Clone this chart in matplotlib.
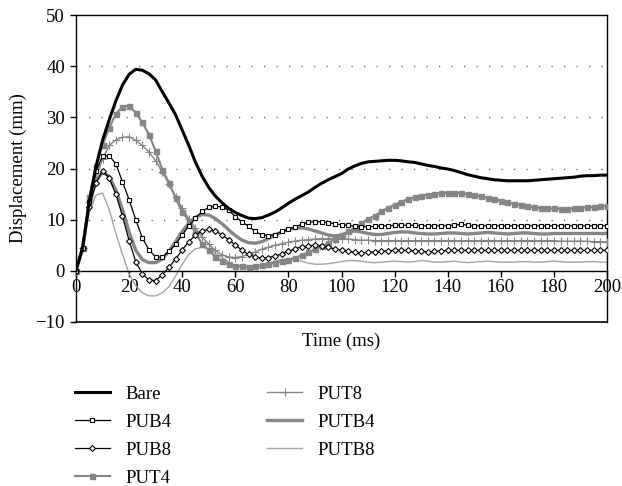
import numpy as np
import matplotlib
matplotlib.use("Agg")
import matplotlib.pyplot as plt

# ---------------- data ----------------
time_ms = np.arange(0, 200.01, 2.5)

bare = [0, 4.5, 13.5, 20.3, 25.5, 29.5, 33.2, 36.3, 38.4, 39.4, 39.2,
        38.5, 37.3, 35.0, 32.8, 30.5, 27.5, 24.5, 21.2, 18.5, 16.3,
        14.6, 13.3, 12.2, 11.4, 10.8, 10.3, 10.2, 10.4, 10.9, 11.5,
        12.3, 13.2, 14.0, 14.7, 15.4, 16.3, 17.1, 17.8, 18.4, 19.0,
        19.9, 20.5, 21.0, 21.3, 21.4, 21.5, 21.6, 21.6, 21.5, 21.3,
        21.2, 20.9, 20.6, 20.4, 20.1, 19.9, 19.6, 19.2, 18.8, 18.5,
        18.2, 18.0, 17.8, 17.7, 17.6, 17.6, 17.6, 17.6, 17.7, 17.8,
        17.9, 18.0, 18.1, 18.2, 18.3, 18.5, 18.6, 18.6, 18.7, 18.7]

pub4 = [0, 4.5, 13.5, 19.5, 22.4, 22.5, 20.9, 17.4, 13.9, 10.0, 6.4,
        4.1, 2.7, 2.7, 3.8, 5.2, 7.0, 8.8, 10.3, 11.6, 12.4,
        12.6, 12.5, 11.8, 10.6, 9.6, 8.7, 7.7, 7.0, 6.9, 7.1,
        7.7, 8.1, 8.6, 9.1, 9.5, 9.6, 9.6, 9.4, 9.2, 9.0,
        8.9, 8.7, 8.6, 8.6, 8.7, 8.8, 8.8, 8.9, 8.9, 8.9,
        8.9, 8.8, 8.8, 8.8, 8.8, 8.8, 8.9, 9.1, 8.9, 8.8,
        8.8, 8.8, 8.8, 8.8, 8.8, 8.8, 8.8, 8.8, 8.8, 8.8,
        8.8, 8.8, 8.8, 8.8, 8.8, 8.8, 8.8, 8.8, 8.8, 8.8]

pub8 = [0, 4.5, 12.5, 17.1, 19.6, 18.1, 15.0, 10.7, 5.9, 1.8, -0.6,
        -1.8, -1.9, -0.8, 0.7, 2.3, 4.1, 5.7, 7.0, 7.8, 8.1,
        7.8, 7.0, 6.1, 5.1, 4.0, 3.2, 2.7, 2.5, 2.6, 2.9,
        3.3, 3.8, 4.3, 4.7, 4.9, 5.0, 4.9, 4.6, 4.3, 4.0,
        3.8, 3.6, 3.5, 3.6, 3.7, 3.8, 3.9, 4.0, 4.0, 4.0,
        3.9, 3.8, 3.7, 3.8, 3.9, 4.0, 4.0, 4.0, 4.0, 4.0,
        4.0, 4.0, 4.0, 4.0, 4.0, 4.0, 4.0, 4.0, 4.0, 4.0,
        4.0, 4.0, 4.0, 4.0, 4.0, 4.0, 4.0, 4.0, 4.0, 4.0]

put4 = [0, 4.5, 14.5, 20.5, 24.6, 27.9, 30.7, 32.1, 32.3, 30.9, 29.0,
        26.6, 23.4, 19.8, 17.2, 14.2, 11.5, 9.8, 7.3, 5.3, 4.0,
        2.8, 1.9, 1.3, 1.0, 0.9, 0.8, 0.9, 1.1, 1.3, 1.6,
        1.9, 2.2, 2.6, 3.0, 3.6, 4.2, 4.8, 5.4, 6.3, 7.0,
        7.7, 8.4, 9.3, 10.1, 10.8, 11.6, 12.3, 12.9, 13.5, 14.0,
        14.4, 14.7, 14.9, 15.1, 15.2, 15.3, 15.3, 15.2, 15.0, 14.8,
        14.6, 14.3, 14.0, 13.7, 13.4, 13.1, 12.9, 12.6, 12.4, 12.3,
        12.2, 12.2, 12.1, 12.1, 12.2, 12.3, 12.4, 12.5, 12.6, 12.7]

put8 = [0, 4.5, 13.5, 18.3, 21.8, 24.5, 25.6, 26.1, 26.2, 25.5, 24.5,
        23.2, 21.5, 19.3, 17.0, 14.5, 12.3, 10.2, 8.3, 6.6, 5.2,
        4.0, 3.1, 2.7, 2.6, 2.8, 3.2, 3.7, 4.2, 4.6, 5.0,
        5.3, 5.6, 5.8, 6.0, 6.1, 6.2, 6.3, 6.3, 6.3, 6.2,
        6.2, 6.1, 6.0, 6.0, 5.9, 5.9, 5.9, 5.9, 5.9, 5.9,
        5.9, 5.9, 5.9, 5.9, 5.9, 5.9, 5.9, 5.9, 5.9, 5.9,
        5.9, 5.9, 5.9, 5.9, 5.9, 5.9, 5.9, 5.9, 5.9, 5.9,
        5.9, 5.9, 5.8, 5.8, 5.8, 5.8, 5.8, 5.7, 5.7, 5.7]

putb4 = [0, 4.5, 13.0, 17.5, 19.3, 18.5, 15.8, 12.0, 7.6, 4.0, 2.2,
         1.6, 1.6, 2.3, 3.8, 5.7, 7.7, 9.3, 10.5, 11.0, 10.9,
         10.2, 9.2, 8.0, 6.9, 6.0, 5.5, 5.4, 5.7, 6.3, 7.0,
         7.6, 8.1, 8.4, 8.4, 8.2, 7.8, 7.4, 7.0, 6.8, 7.0,
         7.5, 7.8, 7.6, 7.3, 7.1, 7.1, 7.3, 7.5, 7.6, 7.6,
         7.4, 7.3, 7.2, 7.2, 7.3, 7.4, 7.4, 7.3, 7.2, 7.3,
         7.4, 7.5, 7.4, 7.3, 7.2, 7.3, 7.4, 7.4, 7.3, 7.2,
         7.2, 7.3, 7.3, 7.3, 7.3, 7.3, 7.3, 7.3, 7.3, 7.3]

putb8 = [0, 4.5, 11.5, 14.8, 15.2, 12.0, 7.3, 3.2, -0.6, -2.9, -4.3,
         -4.9, -4.9, -4.3, -3.1, -1.0, 1.3, 3.2, 4.3, 4.6, 4.3,
         3.5, 2.6, 1.7, 1.0, 0.6, 0.5, 0.6, 0.9, 1.4, 1.9,
         2.2, 2.3, 2.2, 1.9, 1.5, 1.3, 1.3, 1.4, 1.6, 1.8,
         2.0, 2.0, 1.9, 1.7, 1.6, 1.7, 1.8, 1.9, 1.8, 1.7,
         1.8, 2.0, 1.9, 1.7, 1.7, 1.8, 1.9, 1.7, 1.6, 1.7,
         1.8, 1.9, 1.8, 1.7, 1.7, 1.7, 1.8, 1.8, 1.7, 1.7,
         1.8, 1.9, 1.8, 1.7, 1.7, 1.7, 1.8, 1.8, 1.7, 1.7]

labels = ["Bare", "PUB4", "PUB8", "PUT4", "PUT8", "PUTB4", "PUTB8"]
x_ticks = [0, 20, 40, 60, 80, 100, 120, 140, 160, 180, 200]
y_ticks = [-10, 0, 10, 20, 30, 40, 50]

# ---------------- style ----------------
plt.rcParams['font.family'] = ['Liberation Serif', 'DejaVu Serif']
plt.rcParams['font.size'] = 13.5
plt.rcParams['axes.unicode_minus'] = True

fig = plt.figure(figsize=(6.22, 4.86), dpi=100)
ax = fig.add_axes([76/622, 1-322/486, (607-76)/622, (322-15)/486])

gray = '#858585'
lgray = '#a3a3a3'

ax.plot(time_ms, putb8, color=lgray, lw=1.0, label=labels[6], zorder=2)
ax.plot(time_ms, putb4, color=gray, lw=2.4, label=labels[5], zorder=2)
ax.plot(time_ms, put8, color=gray, lw=1.0, marker='+', ms=5.5, mew=0.8,
        label=labels[4], zorder=3)
ax.plot(time_ms, put4, color=gray, lw=1.5, marker='s', ms=3.6, mfc=gray,
        mec=gray, label=labels[3], zorder=3)
ax.plot(time_ms, pub8, color='black', lw=0.9, marker='D', ms=3.0, mfc='white',
        mec='black', mew=0.8, label=labels[2], zorder=4)
ax.plot(time_ms, pub4, color='black', lw=0.9, marker='s', ms=3.4, mfc='white',
        mec='black', mew=0.8, label=labels[1], zorder=4)
ax.plot(time_ms, bare, color='black', lw=2.2, label=labels[0], zorder=5)

ax.set_xlim(0, 200)
ax.set_ylim(-10, 50)

# grid
for yv in [10, 20, 30, 40]:
    ax.axhline(yv, color='#555555', lw=0.9, linestyle=(0, (1, 9)), zorder=1)

# spines
ax.spines['bottom'].set_position(('data', 0))
for s in ['left', 'right', 'top', 'bottom']:
    ax.spines[s].set_linewidth(1.0)
    ax.spines[s].set_color('black')
ax.plot([0, 200], [-10, -10], color='black', lw=1.2, clip_on=False, zorder=6)

ax.set_xticks(x_ticks)
ax.set_yticks(y_ticks)
ax.tick_params(axis='x', direction='out', length=4, width=1, pad=2)
ax.tick_params(axis='y', direction='out', length=4, width=1, pad=4)
ax.set_yticklabels([("\u2212%d" % -v) if v < 0 else str(v) for v in y_ticks])

ax.set_xlabel("Time (ms)")
ax.xaxis.set_label_coords(0.5, -0.035)
ax.set_ylabel("Displacement (mm)", labelpad=6)

handles, labs = ax.get_legend_handles_labels()
order = [labs.index(l) for l in labels]
fig.legend([handles[i] for i in order], [labs[i] for i in order],
           loc='upper left', bbox_to_anchor=(67/622, 1-378/486), ncol=2,
           frameon=False, handlelength=1.9, handletextpad=0.8,
           columnspacing=5.1, labelspacing=0.58, borderaxespad=0,
           fontsize=13.5)

fig.savefig("out.png", dpi=100)
